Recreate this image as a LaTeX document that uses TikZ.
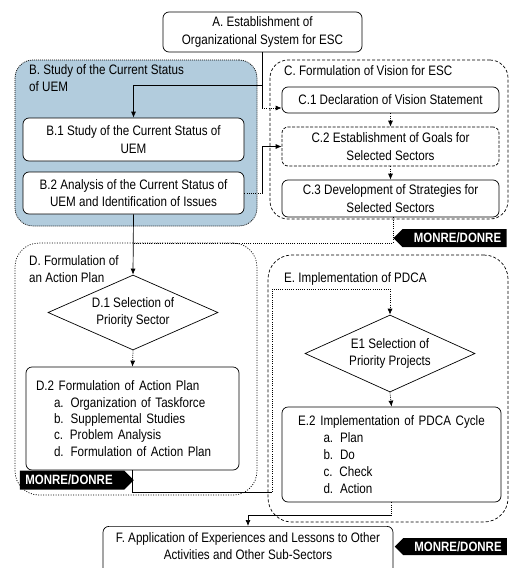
\documentclass[tikz,border=0pt]{standalone}
\usepackage{fontspec}
\setmainfont[FakeStretch=0.85]{Liberation Sans}
\usetikzlibrary{arrows.meta,shapes.geometric,shapes.symbols}
\definecolor{uemblue}{RGB}{178,204,221}
\newcommand{\itemgap}[1]{\makebox[#1]{}}
\begin{document}
\begin{tikzpicture}[x=1pt,y=-1pt,
  every node/.style={font=\fontsize{13.7}{17.5}\selectfont},
  ln/.style={line width=0.7pt},
  dt/.style={dash pattern=on 1pt off 1.2pt},
  ar/.style={-{Latex[length=6pt,width=5pt]}},
  box/.style={draw, ln, rounded corners=6pt, fill=white, align=center, inner sep=0pt},
  dbox/.style={box, dash pattern=on 3pt off 1.5pt},
  decide/.style={draw, ln, diamond, aspect=2.27, fill=white, align=center, inner sep=0pt},
  group/.style={draw, ln, rounded corners=18pt, inner sep=0pt},
  grouptitle/.style={anchor=north west, align=left, inner sep=0pt},
  tagbox/.style={signal, fill=black, text=white, inner sep=0pt,
    font=\fontsize{13.5}{14}\selectfont\bfseries, signal pointer angle=90}]
\useasboundingbox (0,0) rectangle (510,568);
\clip (0,0) rectangle (510,568);

% ---- A ----
\node[box, minimum width=199pt, minimum height=40pt] (A) at (262.5,32)
  {A. Establishment of\\Organizational System for ESC};

% ---- B: study of current status ----
\node[group, fill=uemblue, dash pattern=on 1pt off 1pt, minimum width=242pt, minimum height=166pt] (Bc) at (136,143) {};
\node[grouptitle] (Bt) at (29,64) {B. Study of the Current Status\\of UEM};
\node[box, minimum width=221pt, minimum height=43pt] (B1) at (133.5,139.5)
  {B.1 Study of the Current Status of\\UEM};
\node[box, minimum width=221pt, minimum height=42pt] (B2) at (133.5,193)
  {B.2 Analysis of the Current Status of\\UEM and Identification of Issues};

% ---- C: vision ----
\node[group, dash pattern=on 3pt off 2pt, minimum width=238pt, minimum height=159pt] (Cc) at (389,139.5) {};
\node[grouptitle] (Ct) at (284,65) {C. Formulation of Vision for ESC};
\node[box, minimum width=217pt, minimum height=26pt] (C1) at (390.5,100)
  {C.1 Declaration of Vision Statement};
\node[dbox, minimum width=217pt, minimum height=39pt] (C2) at (390.5,146.5)
  {C.2 Establishment of Goals for\\Selected Sectors};
\node[box, minimum width=217pt, minimum height=37pt] (C3) at (390.5,198.5)
  {C.3 Development of Strategies for\\Selected Sectors};
\node[tagbox, signal to=west, minimum width=113pt, minimum height=18pt] (T1) at (454.5,238) {\hspace*{6pt}MONRE/DONRE};

% ---- D: action plan ----
\node[group, dash pattern=on 1pt off 1.5pt, rounded corners=24pt, minimum width=242pt, minimum height=252pt] (Dc) at (136,369) {};
\node[grouptitle] (Dt) at (29,255) {D. Formulation of\\an Action Plan};
\node[decide, minimum width=170pt, minimum height=75pt] (D1) at (133,312.5)
  {D.1 Selection of\\Priority Sector};
\node[box, text width=193pt, align=left, inner xsep=10pt, minimum height=103pt,
  font=\fontsize{13.7}{16.3}\selectfont] (D2) at (132.5,418.5)
  {D.2 Formulation of Action Plan\\
   \itemgap{18pt}a. Organization of Taskforce\\
   \itemgap{18pt}b. Supplemental Studies\\
   \itemgap{18pt}c. Problem Analysis\\
   \itemgap{18pt}d. Formulation of Action Plan};
\node[tagbox, signal to=east, minimum width=114pt, minimum height=19pt] (T2) at (72,480) {MONRE/DONRE\hspace*{6pt}};

% ---- E: PDCA ----
\node[group, dash pattern=on 3pt off 2pt, rounded corners=24pt, minimum width=240pt, minimum height=267pt] (Ec) at (388,388.5) {};
\node[grouptitle] (Et) at (284,272) {E. Implementation of PDCA};
\node[decide, minimum width=170pt, minimum height=77pt] (E1) at (390,353.5)
  {E1 Selection of\\Priority Projects};
\node[box, text width=200pt, align=left, inner xsep=9.5pt, minimum height=95pt,
  font=\fontsize{13.7}{17}\selectfont] (E2) at (391.5,454.5)
  {\makebox[200pt]{E.2 Implementation of PDCA Cycle}\\
   \itemgap{32pt}a. Plan\\
   \itemgap{32pt}b. Do\\
   \itemgap{32pt}c. Check\\
   \itemgap{32pt}d. Action};

% ---- F: application ----
\node[box, anchor=north, minimum width=290pt, inner ysep=6pt, text depth=30pt] (F) at (248,526)
  {F. Application of Experiences and Lessons to Other\\Activities and Other Sub-Sectors};
\node[tagbox, signal to=west, minimum width=112pt, minimum height=17pt] (T3) at (455,546.5) {\hspace*{6pt}MONRE/DONRE};

% ---- connectors ----
\coordinate (ax) at (262,0);
\coordinate (aB) at (262,85);
\coordinate (aC) at (262,108);
\draw[ln] (A.south -| ax) -- (aC);
\draw[ln, dt, ar] (aC) -- (aC -| C1.west);
\draw[ln, ar] (aB) -| (B1.north);

\coordinate (bc) at (262,193);
\draw[ln, dt] (B2.east) -- (bc);
\draw[ln, ar] (bc) |- (C2.west);

\draw[ln, dt, ar] (C1.south) -- (C2.north);
\draw[ln, dt, ar] (C2.south) -- (C3.north);

\coordinate (m1) at (393,243);
\draw[ln, dt] (C3.south -| m1) -- (m1) -- (m1 -| B2.south);

\draw[ln, ar] (B2.south) -- (D1.north);
\draw[ln, dt, ar] (D1.south) -- (D2.north);

\coordinate (e0) at (272,492);
\coordinate (e1) at (272,289);
\draw[ln] (D2.south) |- (e0);
\draw[ln, dt, ar] (e0) -- (e1) -| (E1.north);
\draw[ln, dt, ar] (E1.south) -- (E2.north);

\coordinate (f1) at (391.5,515);
\draw[ln, dt] (E2.south) -- (f1);
\draw[ln, ar] (f1) -| (F.north);
\end{tikzpicture}
\end{document}
